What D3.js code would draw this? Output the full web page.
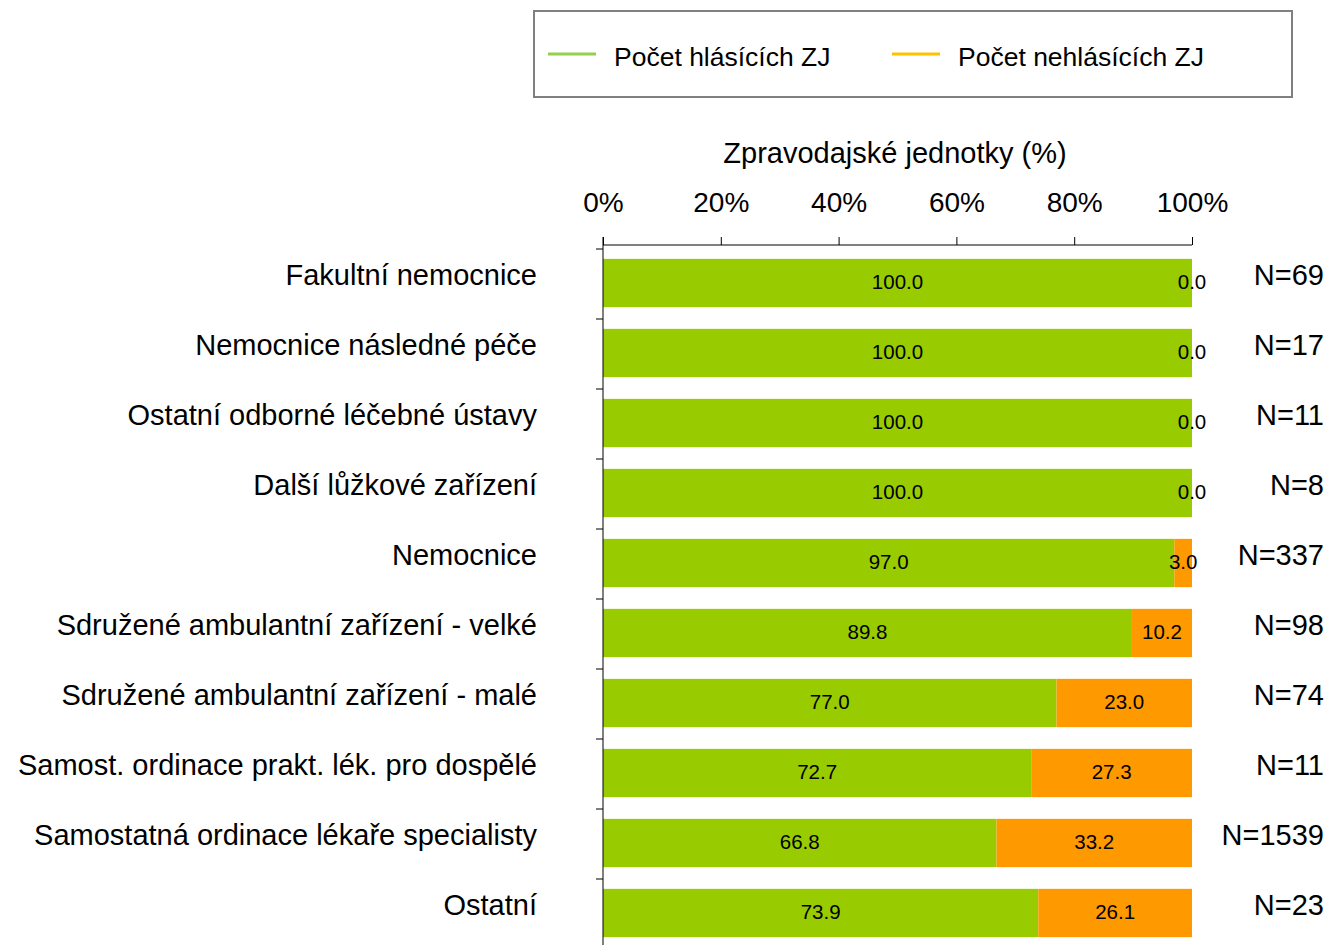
<!DOCTYPE html>
<html>
<head>
<meta charset="utf-8">
<script src="https://cdn.jsdelivr.net/npm/d3@7"></script>
<style>
  body { margin: 0; background: #fff; }
  text { font-family: "Liberation Sans", Arial, sans-serif; fill: #000; }
</style>
</head>
<body>
<div id="chart"></div>
<script>
// data
var categories = ["Fakultní nemocnice", "Nemocnice následné péče", "Ostatní odborné léčebné ústavy",
  "Další lůžkové zařízení", "Nemocnice", "Sdružené ambulantní zařízení - velké",
  "Sdružené ambulantní zařízení - malé", "Samost. ordinace prakt. lék. pro dospělé",
  "Samostatná ordinace lékaře specialisty", "Ostatní"];
var reporting = [100.0, 100.0, 100.0, 100.0, 97.0, 89.8, 77.0, 72.7, 66.8, 73.9];
var notReporting = [0.0, 0.0, 0.0, 0.0, 3.0, 10.2, 23.0, 27.3, 33.2, 26.1];
var counts = ["N=69", "N=17", "N=11", "N=8", "N=337", "N=98", "N=74", "N=11", "N=1539", "N=23"];
var ticks = [0, 20, 40, 60, 80, 100];
var seriesNames = ["Počet hlásících ZJ", "Počet nehlásících ZJ"];

var svgWidth = 1332, svgHeight = 945;
var svg = d3.select("#chart").append("svg")
  .attr("width", svgWidth)
  .attr("height", svgHeight);

// scales
var x = d3.scaleLinear().domain([0, 100]).range([603, 1192]);
var y = d3.scaleBand().domain(categories).range([249, 949])
  .paddingInner(0.31).paddingOuter(0.155);

var rows = categories.map(function(c, i) {
  return { cat: c, a: reporting[i], b: notReporting[i], n: counts[i] };
});

// bars - green part
svg.selectAll(".barA").data(rows).enter().append("rect")
  .attr("x", x(0))
  .attr("y", d => y(d.cat) - 1)
  .attr("width", d => x(d.a) - x(0))
  .attr("height", y.bandwidth())
  .attr("fill", "#99cc00");

// bars - orange part
svg.selectAll(".barB").data(rows).enter().append("rect")
  .attr("x", d => x(d.a))
  .attr("y", d => y(d.cat) - 1)
  .attr("width", d => x(d.a + d.b) - x(d.a))
  .attr("height", y.bandwidth())
  .attr("fill", "#ff9900");

// value labels
svg.selectAll(".lblA").data(rows).enter().append("text")
  .attr("x", d => (x(0) + x(d.a)) / 2)
  .attr("y", d => y(d.cat) + y.bandwidth() / 2 + 5)
  .attr("text-anchor", "middle")
  .style("font-size", "20.5px")
  .text(d => d.a.toFixed(1));

svg.selectAll(".lblB").data(rows).enter().append("text")
  .attr("x", d => (x(d.a) + x(d.a + d.b)) / 2)
  .attr("y", d => y(d.cat) + y.bandwidth() / 2 + 5)
  .attr("text-anchor", "middle")
  .style("font-size", "20.5px")
  .text(d => d.b.toFixed(1));

// top axis
var topAxis = d3.axisTop(x).tickValues(ticks).tickFormat(d => d + "%").tickSize(8).tickPadding(20);
var gx = svg.append("g").attr("transform", "translate(0,245)").call(topAxis);
gx.select(".domain").attr("d", "M" + x(0) + ",0H" + x(100)).attr("stroke", "#000");
gx.selectAll(".tick line").attr("stroke", "#000");
gx.selectAll("text").attr("y", -33).style("font-size", "28px").style("font-family", "Liberation Sans, Arial, sans-serif");

// left axis line and category ticks
svg.append("line")
  .attr("x1", x(0)).attr("x2", x(0))
  .attr("y1", 237).attr("y2", 945)
  .attr("stroke", "#000");
svg.selectAll(".ctick").data(categories).enter().append("line")
  .attr("x1", x(0) - 7).attr("x2", x(0))
  .attr("y1", d => y(d) - y.step() * y.paddingInner() / 2)
  .attr("y2", d => y(d) - y.step() * y.paddingInner() / 2)
  .attr("stroke", "#000");

// category labels
svg.selectAll(".cat").data(rows).enter().append("text")
  .attr("x", 537)
  .attr("y", d => y(d.cat) + y.bandwidth() / 2 + 1)
  .attr("text-anchor", "end")
  .style("font-size", "29px")
  .text(d => d.cat);

// N labels
svg.selectAll(".nlbl").data(rows).enter().append("text")
  .attr("x", 1324)
  .attr("y", d => y(d.cat) + y.bandwidth() / 2 + 1)
  .attr("text-anchor", "end")
  .style("font-size", "29px")
  .text(d => d.n);

// axis title
svg.append("text")
  .attr("x", 895).attr("y", 163)
  .attr("text-anchor", "middle")
  .style("font-size", "29px")
  .text("Zpravodajské jednotky (%)");

// legend
svg.append("rect")
  .attr("x", 534).attr("y", 11).attr("width", 758).attr("height", 86)
  .attr("fill", "none").attr("stroke", "#808080").attr("stroke-width", 2);
var legendColors = ["#92d050", "#ffc000"];
var legendX = [548, 892];
seriesNames.forEach(function(s, i) {
  svg.append("line")
    .attr("x1", legendX[i]).attr("x2", legendX[i] + 48)
    .attr("y1", 54).attr("y2", 54)
    .attr("stroke", legendColors[i]).attr("stroke-width", 3);
  svg.append("text")
    .attr("x", legendX[i] + 66).attr("y", 66)
    .style("font-size", "26.5px")
    .text(s);
});
</script>
</body>
</html>
